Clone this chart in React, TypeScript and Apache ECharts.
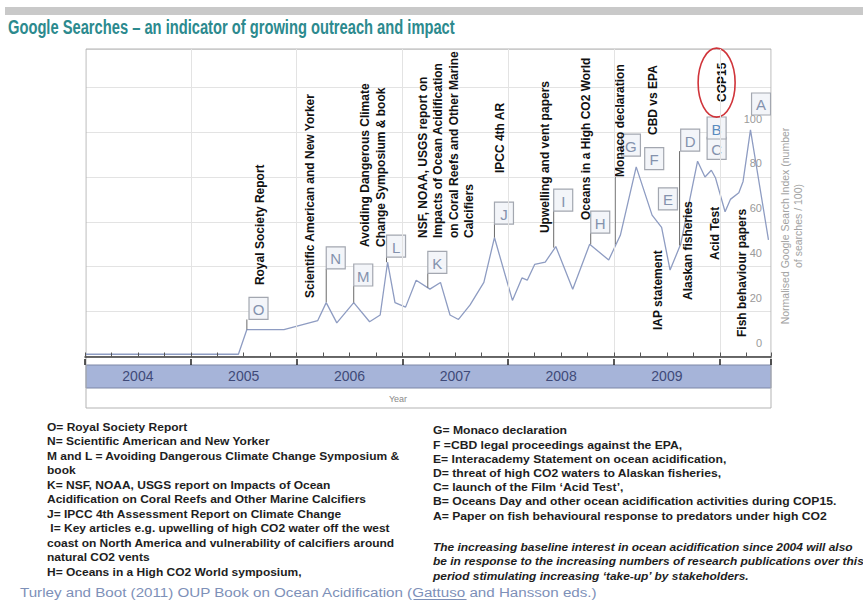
import React, { useEffect, useRef } from 'react';
import * as echarts from 'echarts';

const TITLE = 'Google Searches – an indicator of growing outreach and impact';
const Y_AXIS_TITLE = 'Normalised Google Search Index (number\nof searches / 100)';
const X_AXIS_TITLE = 'Year';
const Y_TICK_LABELS = [0, 20, 40, 60, 80, 100];

// Google search index (decimal year, normalised value)
const searchYears = [
  2004.0, 2005.45, 2005.53, 2005.88, 2006.2, 2006.28, 2006.38, 2006.54, 2006.69, 2006.79,
  2006.86, 2006.93, 2007.03, 2007.13, 2007.26, 2007.36, 2007.45, 2007.53, 2007.64, 2007.77,
  2007.87, 2008.04, 2008.13, 2008.18, 2008.25, 2008.35, 2008.45, 2008.61, 2008.77, 2008.95,
  2009.06, 2009.21, 2009.36, 2009.45, 2009.53, 2009.63, 2009.79, 2009.86, 2009.92, 2009.96,
  2010.05, 2010.1, 2010.18, 2010.22, 2010.29, 2010.46,
];
const searchValues = [
  1, 1, 12, 12, 16, 24, 15, 24, 15.5, 18.5,
  42, 24, 22, 34, 30, 33, 18.5, 16.5, 23, 33,
  53, 25, 35, 34, 41, 42, 49, 30, 50, 43,
  54, 84.5, 63, 57.5, 38.5, 50, 87, 80, 83, 79.5,
  64.5, 70, 73, 78, 101, 52,
];

// Event letter boxes
const eventLetters = ['O', 'N', 'M', 'L', 'K', 'J', 'I', 'H', 'G', 'F', 'E', 'D', 'C', 'B', 'A'];
const eventBoxYears = [2005.64, 2006.37, 2006.63, 2006.94, 2007.33, 2007.96, 2008.52, 2008.87, 2009.16, 2009.38, 2009.51, 2009.72, 2009.97, 2009.97, 2010.39];
const eventBoxValues = [21.4, 43.9, 36.3, 49.2, 41.9, 63.9, 69.7, 59.9, 94.2, 88.2, 70.2, 96.4, 92.7, 101.8, 112.5];
const eventLeaderYears = [2005.53, 2006.28, 2006.54, 2006.85, 2007.24, 2007.87, 2008.43, 2008.78, null, null, null, 2009.62, null, null, null];
const eventLeaderValues = [12, 24.2, 24, 42, 30.6, 53, 48.5, 50, null, null, null, 49.5, null, null, null];

// Vertical event captions
const captionTexts = [
  'Royal Society Report',
  'Scientific American and New Yorker',
  'Avoiding Dangerous Climate\nChange Symposium & book',
  'NSF, NOAA, USGS report on\nImpacts of Ocean Acidification\non Coral Reefs and Other Marine\nCalcifiers',
  'IPCC 4th AR',
  'Upwelling and vent papers',
  'Oceans in a High CO2 World',
  'Monaco declaration',
  'CBD vs EPA',
  'COP15',
  'IAP statement',
  'Alaskan fisheries',
  'Acid Test',
  'Fish behaviour papers',
];
const captionYears = [2005.65, 2006.13, 2006.72, 2007.41, 2007.92, 2008.35, 2008.74, 2009.06, 2009.37, 2010.02, 2009.42, 2009.7, 2009.95, 2010.21];
const captionValues = [31.8, 26.1, 48.8, 52.8, 81.7, 55.0, 60.8, 80.0, 98.7, 113.4, 11.8, 25.2, 43.0, 8.7];
const captionLeaderYears = [null, null, null, null, null, null, null, 2009.01, null, null, null, null, null, null];
const captionLeaderValues = [null, null, null, null, null, null, null, 50, null, null, null, null, null, null];

// Highlight ring around COP15
const highlightYears = [2009.97];
const highlightValues = [122];

const notesLeft = [
  'O= Royal Society Report',
  'N= Scientific American and New Yorker',
  'M and L = Avoiding Dangerous Climate Change Symposium &',
  'book',
  'K= NSF, NOAA, USGS report on Impacts of Ocean',
  'Acidification on Coral Reefs and Other Marine Calcifiers',
  'J= IPCC 4th Assessment Report on Climate Change',
  ' I= Key articles e.g. upwelling of high CO2 water off the west',
  'coast on North America and vulnerability of calcifiers around',
  'natural CO2 vents',
  'H= Oceans in a High CO2 World symposium,',
];
const notesRight = [
  'G= Monaco declaration',
  'F =CBD legal proceedings against the EPA,',
  'E= Interacademy Statement on ocean acidification,',
  'D= threat of high CO2 waters to Alaskan fisheries,',
  'C= launch of the Film ‘Acid Test’,',
  'B= Oceans Day and other ocean acidification activities during COP15.',
  'A= Paper on fish behavioural response to predators under high CO2',
];
const notesItalic = [
  'The increasing baseline interest in ocean acidification since 2004 will also',
  'be in response to the increasing numbers of research publications over this',
  'period stimulating increasing ‘take-up’ by stakeholders.',
];
const SOURCE_PREFIX = 'Turley and Boot (2011) OUP Book on Ocean Acidification (';
const SOURCE_LINK = 'Gattuso';
const SOURCE_SUFFIX = ' and Hansson eds.)';

const X_MIN = 2004;
const X_MAX = 2010.484;

const SANS = '"Liberation Sans", Arial, sans-serif';
const NARROW = '"Liberation Sans Narrow", "Liberation Sans", Arial, sans-serif';

function measure(text: string, font: string): number {
  const c = document.createElement('canvas').getContext('2d');
  if (!c) return 1;
  c.font = font;
  return c.measureText(text).width || 1;
}

export default function App() {
  const ref = useRef<HTMLDivElement>(null);

  useEffect(() => {
    if (!ref.current) return;
    const chart = echarts.init(ref.current, null, { renderer: 'svg' });

    const titleFont = `bold 20px ${NARROW}`;
    const titleSx = 447 / measure(TITLE, titleFont);
    const noteFont = `bold 11px ${SANS}`;
    const leftSx = 353 / measure(notesLeft[2], noteFont);
    const rightSx = 404 / measure(notesRight[5], noteFont);
    const italicFont = `italic bold 11px ${SANS}`;
    const italicSx = 420 / measure(notesItalic[0], italicFont);
    const srcFont = `13.5px ${SANS}`;
    const srcFull = SOURCE_PREFIX + SOURCE_LINK + SOURCE_SUFFIX;
    const srcSx = 578 / measure(srcFull, srcFont);
    const linkX0 = 20 + measure(SOURCE_PREFIX, srcFont) * srcSx;
    const linkX1 = linkX0 + measure(SOURCE_LINK, srcFont) * srcSx;

    const BOX_W = 19;
    const BOX_H = 22;

    const option: any = {
      animation: false,
      backgroundColor: '#ffffff',
      grid: { left: 85, right: 92, top: 49, bottom: 247.5, containLabel: false },
      xAxis: [
        {
          type: 'value',
          min: X_MIN,
          max: X_MAX,
          interval: 0.25,
          position: 'bottom',
          offset: 8.5,
          z: 10,
          axisLine: { show: true, lineStyle: { color: '#3a3a3a', width: 1.5 } },
          axisTick: { show: true, inside: true, length: 4, lineStyle: { color: '#555', width: 1 } },
          axisLabel: {
            show: true,
            margin: 4,
            color: '#3f4a78',
            fontSize: 14,
            fontFamily: SANS,
            showMinLabel: true,
            showMaxLabel: true,
            formatter: (v: number) => (Math.abs(v - Math.floor(v) - 0.5) < 1e-6 ? String(Math.floor(v)) : ''),
          },
          splitLine: { show: false },
        },
        {
          type: 'value',
          min: X_MIN,
          max: X_MAX,
          interval: 1,
          position: 'bottom',
          offset: 8.5,
          z: 10,
          axisLine: { show: false },
          axisTick: { show: true, inside: true, length: 6, lineStyle: { color: '#222', width: 1.5 } },
          axisLabel: { show: false },
          splitLine: { show: true, lineStyle: { color: '#e3e3e3', width: 1 } },
        },
      ],
      yAxis: {
        type: 'value',
        min: 0,
        max: 137,
        interval: 20,
        position: 'right',
        axisLine: { show: false },
        axisTick: { show: false },
        axisLabel: {
          inside: true,
          margin: 9,
          color: '#9a9a9a',
          fontSize: 11,
          fontFamily: SANS,
          verticalAlign: 'bottom',
          padding: [0, 0, 8, 0],
          formatter: (v: number) => (Y_TICK_LABELS.indexOf(v) >= 0 ? String(v) : ''),
        },
        splitLine: { show: true, lineStyle: { color: '#e3e3e3', width: 1 } },
      },
      series: [
        {
          type: 'line',
          xAxisIndex: 0,
          yAxisIndex: 0,
          data: searchYears.map((y, i) => [y, searchValues[i]]),
          symbol: 'none',
          lineStyle: { color: '#8e9cc2', width: 1.3 },
          z: 3,
          silent: true,
        },
        {
          type: 'custom',
          xAxisIndex: 0,
          yAxisIndex: 0,
          coordinateSystem: 'cartesian2d',
          clip: false,
          silent: true,
          z: 5,
          data: eventBoxYears.map((y, i) => [y, eventBoxValues[i]]),
          renderItem: (params: any, api: any) => {
            const i = params.dataIndex;
            const c = api.coord([api.value(0), api.value(1)]);
            const children: any[] = [];
            const ly = eventLeaderYears[i];
            if (ly != null) {
              const p = api.coord([ly, eventLeaderValues[i]]);
              children.push({
                type: 'line',
                shape: { x1: p[0], y1: c[1] + BOX_H / 2, x2: p[0], y2: p[1] },
                style: { stroke: '#6a6a6a', lineWidth: 1 },
              });
            }
            children.push({
              type: 'rect',
              shape: { x: c[0] - BOX_W / 2, y: c[1] - BOX_H / 2, width: BOX_W, height: BOX_H },
              style: { fill: '#f3f5f9', stroke: '#a3a7b0', lineWidth: 1.2 },
            });
            children.push({
              type: 'text',
              x: c[0],
              y: c[1] + 1,
              style: {
                text: eventLetters[i],
                font: `15px ${SANS}`,
                fill: eventLetters[i] === 'B' ? '#5a8cc0' : '#8492ad',
                align: 'center',
                verticalAlign: 'middle',
                textAlign: 'center',
                textVerticalAlign: 'middle',
              },
            });
            return { type: 'group', children };
          },
        },
        {
          type: 'custom',
          xAxisIndex: 0,
          yAxisIndex: 0,
          coordinateSystem: 'cartesian2d',
          clip: false,
          silent: true,
          z: 6,
          data: captionYears.map((y, i) => [y, captionValues[i]]),
          renderItem: (params: any, api: any) => {
            const i = params.dataIndex;
            const c = api.coord([api.value(0), api.value(1)]);
            const children: any[] = [];
            const ly = captionLeaderYears[i];
            if (ly != null) {
              const p = api.coord([ly, captionLeaderValues[i]]);
              children.push({
                type: 'line',
                shape: { x1: p[0], y1: c[1], x2: p[0], y2: p[1] },
                style: { stroke: '#333', lineWidth: 1 },
              });
            }
            children.push({
              type: 'text',
              x: c[0],
              y: c[1],
              rotation: Math.PI / 2,
              style: {
                text: captionTexts[i],
                font: `bold 12px ${SANS}`,
                fill: '#111',
                lineHeight: 15.5,
                align: 'left',
                verticalAlign: 'middle',
                textAlign: 'left',
                textVerticalAlign: 'middle',
              },
            });
            return { type: 'group', children };
          },
        },
        {
          type: 'custom',
          xAxisIndex: 0,
          yAxisIndex: 0,
          coordinateSystem: 'cartesian2d',
          clip: false,
          silent: true,
          z: 7,
          data: highlightYears.map((y, i) => [y, highlightValues[i]]),
          renderItem: (params: any, api: any) => {
            const c = api.coord([api.value(0), api.value(1)]);
            return {
              type: 'ellipse',
              shape: { cx: c[0], cy: c[1], rx: 18.5, ry: 34.5 },
              style: { fill: 'none', stroke: '#d0343a', lineWidth: 1.6 },
            };
          },
        },
      ],
      graphic: [
        { type: 'rect', z: 0, shape: { x: 5, y: 7, width: 858, height: 8 }, style: { fill: '#c9c9c9' }, silent: true },
        {
          type: 'text',
          z: 1,
          x: 8,
          y: 27.5,
          scaleX: titleSx,
          style: { text: TITLE, font: titleFont, fill: '#2c8a8e', textAlign: 'left', textVerticalAlign: 'middle', align: 'left', verticalAlign: 'middle' },
          silent: true,
        },
        { type: 'rect', z: 1, shape: { x: 86, y: 365, width: 685, height: 23 }, style: { fill: '#a6b4d9', stroke: '#7c87a6', lineWidth: 1 }, silent: true },
        { type: 'rect', z: 2, shape: { x: 86, y: 49, width: 685, height: 359 }, style: { fill: 'none', stroke: '#b3b3b3', lineWidth: 1 }, silent: true },
        {
          type: 'text',
          z: 2,
          x: 398,
          y: 399,
          style: { text: X_AXIS_TITLE, font: `9px ${SANS}`, fill: '#8a8a8a', textAlign: 'center', textVerticalAlign: 'middle', align: 'center', verticalAlign: 'middle' },
          silent: true,
        },
        {
          type: 'text',
          z: 2,
          x: 791,
          y: 226,
          rotation: Math.PI / 2,
          style: { text: Y_AXIS_TITLE, font: `10.5px ${SANS}`, fill: '#a2a2a2', lineHeight: 13, textAlign: 'center', textVerticalAlign: 'middle', align: 'center', verticalAlign: 'middle' },
          silent: true,
        },
        {
          type: 'text',
          z: 2,
          x: 47,
          y: 419.5,
          scaleX: leftSx,
          style: { text: notesLeft.join('\n'), font: noteFont, fill: '#1e1e1e', lineHeight: 14.5, textAlign: 'left', textVerticalAlign: 'top', align: 'left', verticalAlign: 'top' },
          silent: true,
        },
        {
          type: 'text',
          z: 2,
          x: 433,
          y: 423.6,
          scaleX: rightSx,
          style: { text: notesRight.join('\n'), font: noteFont, fill: '#1e1e1e', lineHeight: 14.2, textAlign: 'left', textVerticalAlign: 'top', align: 'left', verticalAlign: 'top' },
          silent: true,
        },
        {
          type: 'text',
          z: 2,
          x: 433,
          y: 539.5,
          scaleX: italicSx,
          style: { text: notesItalic.join('\n'), font: italicFont, fill: '#1e1e1e', lineHeight: 14.5, textAlign: 'left', textVerticalAlign: 'top', align: 'left', verticalAlign: 'top' },
          silent: true,
        },
        {
          type: 'text',
          z: 2,
          x: 20,
          y: 592,
          scaleX: srcSx,
          style: { text: srcFull, font: srcFont, fill: '#7d90b8', textAlign: 'left', textVerticalAlign: 'middle', align: 'left', verticalAlign: 'middle' },
          silent: true,
        },
        {
          type: 'line',
          z: 2,
          shape: { x1: linkX0, y1: 599.5, x2: linkX1, y2: 599.5 },
          style: { stroke: '#7d90b8', lineWidth: 1 },
          silent: true,
        },
      ],
    };

    chart.setOption(option);
    return () => chart.dispose();
  }, []);

  return <div ref={ref} style={{ position: 'absolute', left: 0, top: 0, width: 863, height: 604, background: '#fff' }} />;
}
